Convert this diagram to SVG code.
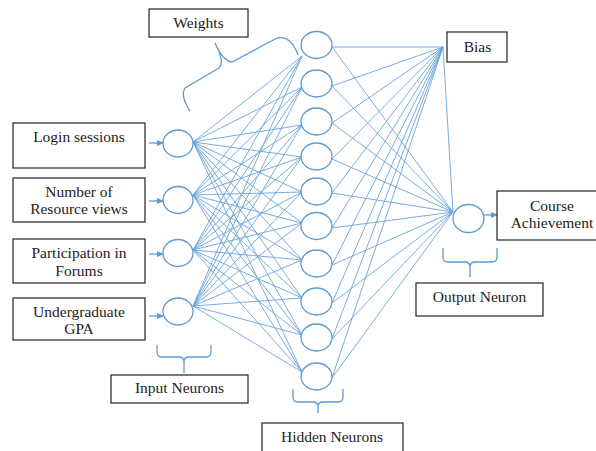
<svg xmlns="http://www.w3.org/2000/svg" width="596" height="451" viewBox="0 0 596 451">
<style>
.box{fill:#fff;stroke:#222;stroke-width:1.2}
text{font-family:'Liberation Serif','Times New Roman','DejaVu Serif',serif;font-size:15.5px;fill:#222;text-anchor:middle}
.n{fill:#fff;stroke:#5b9bd5;stroke-width:1.3}
.c{fill:none;stroke:#6aa3dc;stroke-width:0.9}
.br{fill:none;stroke:#5b9bd5;stroke-width:1.3}
.ar{fill:none;stroke:#5b9bd5;stroke-width:1.3}
</style>
<defs>
<marker id="ah" markerWidth="7" markerHeight="6" refX="6" refY="3" orient="auto" markerUnits="userSpaceOnUse">
<path d="M0,0 L7,3 L0,6 Z" fill="#5b9bd5"/>
</marker>
</defs>
<rect width="596" height="451" fill="#fff"/>
<g id="connectors">
<path class="c" d="M193,142 L302,56 M193,142 L302,87 M193,142 L302,125 M193,142 L302,157 M193,142 L302,192 M193,142 L302,223 M193,142 L302,260 M193,142 L302,298 M193,142 L302,335 M193,142 L302,372"/>
<path class="c" d="M193,195 L302,56 M193,195 L302,87 M193,195 L302,125 M193,195 L302,157 M193,195 L302,192 M193,195 L302,223 M193,195 L302,260 M193,195 L302,298 M193,195 L302,335 M193,195 L302,372"/>
<path class="c" d="M193,250 L302,56 M193,250 L302,87 M193,250 L302,125 M193,250 L302,157 M193,250 L302,192 M193,250 L302,223 M193,250 L302,260 M193,250 L302,298 M193,250 L302,335 M193,250 L302,372"/>
<path class="c" d="M193,306 L302,56 M193,306 L302,87 M193,306 L302,125 M193,306 L302,157 M193,306 L302,192 M193,306 L302,223 M193,306 L302,260 M193,306 L302,298 M193,306 L302,335 M193,306 L302,372"/>
<path class="c" d="M443,47 L332,47 M443,47 L332,86 M443,47 L332,123 M443,47 L332,159 M443,47 L332,193 M443,47 L332,228 M443,47 L332,265 M443,47 L332,303 M443,47 L332,339 M443,47 L332,378 M443,47 L453,212"/>
<path class="c" d="M453,212 L332,47 M453,212 L332,86 M453,212 L332,123 M453,212 L332,159 M453,212 L332,193 M453,212 L332,228 M453,212 L332,265 M453,212 L332,303 M453,212 L332,339 M453,212 L332,378"/>
<line class="ar" x1="149" y1="143" x2="163" y2="143" marker-end="url(#ah)"/>
<line class="ar" x1="149" y1="201" x2="163" y2="201" marker-end="url(#ah)"/>
<line class="ar" x1="149" y1="254" x2="163" y2="254" marker-end="url(#ah)"/>
<line class="ar" x1="149" y1="316" x2="163" y2="316" marker-end="url(#ah)"/>
<line class="ar" x1="484" y1="215" x2="497" y2="215" marker-end="url(#ah)"/>
</g>
<g id="braces">
<path class="br" d="M190,111 Q180,96 185,88 L219,68 Q225,62 215,43 Q222,60 232,62 L277,38 Q291,35 298,55"/>
<path class="br" d="M157,345 L157,352 Q157,357 162,357 L179,357 Q184,357 184,362 L184,373 M184,362 Q184,357 189,357 L206,357 Q211,357 211,352 L211,345"/>
<path class="br" d="M293,389 L293,397 Q293,402 298,402 L313,402 Q318,402 318,407 L318,413 M318,407 Q318,402 323,402 L338,402 Q343,402 343,397 L343,389"/>
<path class="br" d="M443,248 L443,257 Q443,262 448,262 L465,262 Q470,262 470,267 L470,277 M470,267 Q470,262 475,262 L492,262 Q497,262 497,257 L497,248"/>
</g>
<g id="weights"><rect class="box" x="149" y="9" width="99" height="28"/><text x="198.5" y="27.5">Weights</text></g>
<g id="login"><rect class="box" x="13" y="123" width="132" height="45"/><text x="79" y="141.5">Login sessions</text></g>
<g id="resource"><rect class="box" x="13" y="178" width="132" height="44"/><text x="79" y="196.5">Number of</text><text x="79" y="214">Resource views</text></g>
<g id="forums"><rect class="box" x="13" y="239" width="132" height="44"/><text x="79" y="257.5">Participation in</text><text x="79" y="275.5">Forums</text></g>
<g id="gpa"><rect class="box" x="13" y="298" width="132" height="42"/><text x="79" y="316.5">Undergraduate</text><text x="79" y="334">GPA</text></g>
<g id="input-label"><rect class="box" x="111" y="375" width="137" height="28"/><text x="179.5" y="393">Input Neurons</text></g>
<g id="hidden-label"><rect class="box" x="262" y="423" width="141" height="40"/><text x="332" y="441.5">Hidden Neurons</text></g>
<g id="bias"><rect class="box" x="447" y="32" width="60" height="30"/><text x="477.5" y="51.5">Bias</text></g>
<g id="course"><rect class="box" x="497" y="191" width="113" height="49"/><text x="552" y="210.5">Course</text><text x="552" y="228">Achievement</text></g>
<g id="output-label"><rect class="box" x="416" y="283" width="127" height="33"/><text x="479.5" y="301.5">Output Neuron</text></g>
<g id="input-neurons">
<ellipse class="n" cx="178" cy="143.5" rx="15" ry="13.5"/>
<ellipse class="n" cx="178" cy="200" rx="15" ry="13.5"/>
<ellipse class="n" cx="178" cy="253" rx="15" ry="13.5"/>
<ellipse class="n" cx="178" cy="311.5" rx="15" ry="13.5"/>
</g>
<g id="hidden-neurons">
<ellipse class="n" cx="316.5" cy="45" rx="15.5" ry="13.5"/>
<ellipse class="n" cx="316.5" cy="83.5" rx="15.5" ry="13.5"/>
<ellipse class="n" cx="316.5" cy="121.5" rx="15.5" ry="13.5"/>
<ellipse class="n" cx="316.5" cy="156.5" rx="15.5" ry="13.5"/>
<ellipse class="n" cx="316.5" cy="191.5" rx="15.5" ry="13.5"/>
<ellipse class="n" cx="316.5" cy="226" rx="15.5" ry="13.5"/>
<ellipse class="n" cx="316.5" cy="263.5" rx="15.5" ry="13.5"/>
<ellipse class="n" cx="316.5" cy="301.5" rx="15.5" ry="13.5"/>
<ellipse class="n" cx="316.5" cy="337.5" rx="15.5" ry="13.5"/>
<ellipse class="n" cx="316.5" cy="376.5" rx="15.5" ry="13.5"/>
</g>
<g id="output-neuron"><ellipse class="n" cx="468.5" cy="218.5" rx="15.5" ry="14"/></g>
</svg>
